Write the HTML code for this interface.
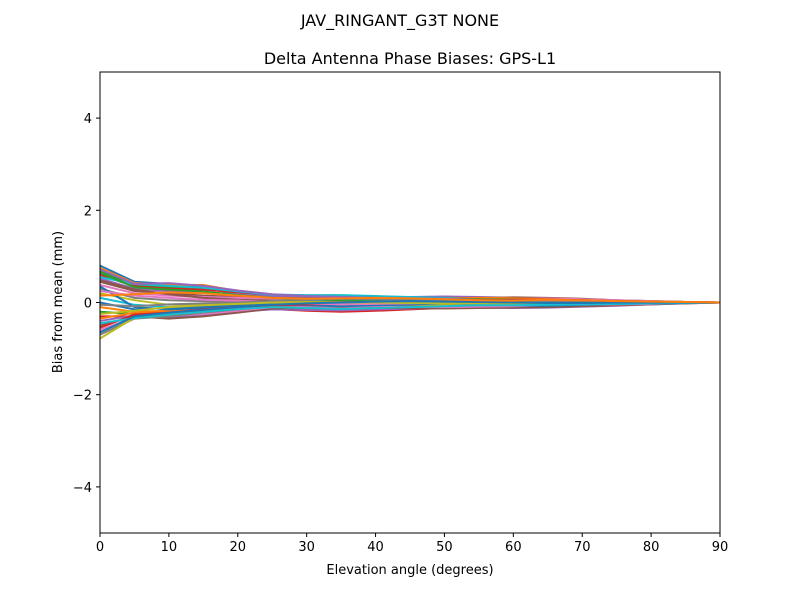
<!DOCTYPE html>
<html><head><meta charset="utf-8"><style>
body{margin:0;background:#fff;font-family:"Liberation Sans","DejaVu Sans",sans-serif}
svg text{font-family:"DejaVu Sans","Liberation Sans",sans-serif}
</style></head><body>
<svg id="chart" width="800" height="600" viewBox="0 0 800 600">
<rect width="800" height="600" fill="#fff"/>
<text x="400" y="26" font-size="16" text-anchor="middle">JAV_RINGANT_G3T NONE</text>
<text x="410" y="64" font-size="16" text-anchor="middle">Delta Antenna Phase Biases: GPS-L1</text>
<g id="lines"></g>
<g id="axes"></g>
<text x="410" y="574" font-size="13" text-anchor="middle">Elevation angle (degrees)</text>
<text transform="translate(62,302) rotate(-90)" font-size="13" text-anchor="middle">Bias from mean (mm)</text>
</svg>
<script>
const elevations=[0,5,10,15,20,25,30,35,40,45,50,55,60,65,70,75,80,85,90];
const xTicks=[0,10,20,30,40,50,60,70,80,90];
const yTicks=[-4,-2,0,2,4];
const yTickLabels=["\u22124","\u22122","0","2","4"];
const series=[
[0.80,0.45,0.40,0.35,0.22,0.12,0.08,0.05,0.03,0.02,0.02,0.03,0.02,0.01,0.01,0.01,0.00,0.00,0.00],
[0.75,0.42,0.38,0.38,0.25,0.15,0.10,0.07,0.05,0.04,0.03,0.02,0.02,0.02,0.01,0.00,0.00,0.00,0.00],
[0.68,0.38,0.33,0.30,0.20,0.14,0.12,0.10,0.08,0.06,0.05,0.04,0.03,0.02,0.02,0.01,0.01,0.00,0.00],
[0.60,0.35,0.30,0.28,0.22,0.16,0.15,0.14,0.12,0.10,0.08,0.06,0.05,0.04,0.03,0.02,0.01,0.00,0.00],
[0.52,0.30,0.25,0.22,0.18,0.13,0.12,0.11,0.10,0.12,0.13,0.12,0.10,0.08,0.06,0.04,0.02,0.01,0.00],
[0.45,0.25,0.20,0.15,0.12,0.10,0.09,0.08,0.07,0.08,0.09,0.10,0.11,0.10,0.08,0.05,0.03,0.01,0.00],
[0.38,0.20,0.15,0.12,0.10,0.08,0.05,0.04,0.04,0.05,0.06,0.07,0.08,0.09,0.07,0.05,0.03,0.01,0.00],
[0.30,0.10,0.05,0.03,0.02,0.03,0.04,0.05,0.04,0.03,0.02,0.03,0.04,0.05,0.04,0.03,0.02,0.01,0.00],
[0.20,0.05,-0.05,-0.05,-0.02,0.02,0.05,0.06,0.05,0.04,0.03,0.02,0.01,0.02,0.02,0.02,0.01,0.00,0.00],
[0.10,-0.05,-0.10,-0.08,-0.05,0.00,0.02,0.03,0.02,0.01,0.00,0.00,-0.01,0.00,0.01,0.01,0.00,0.00,0.00],
[0.00,-0.15,-0.12,-0.10,-0.06,-0.03,-0.02,-0.02,-0.01,0.00,0.01,0.00,-0.02,-0.02,-0.01,0.00,0.00,0.00,0.00],
[-0.10,-0.20,-0.18,-0.15,-0.10,-0.08,-0.10,-0.12,-0.10,-0.08,-0.05,-0.04,-0.05,-0.04,-0.03,-0.02,-0.01,0.00,0.00],
[-0.20,-0.25,-0.25,-0.20,-0.15,-0.12,-0.15,-0.18,-0.16,-0.12,-0.10,-0.08,-0.08,-0.07,-0.05,-0.03,-0.02,-0.01,0.00],
[-0.30,-0.30,-0.30,-0.25,-0.18,-0.14,-0.18,-0.20,-0.18,-0.15,-0.12,-0.10,-0.10,-0.09,-0.07,-0.05,-0.03,-0.01,0.00],
[-0.40,-0.28,-0.32,-0.28,-0.20,-0.15,-0.16,-0.17,-0.15,-0.13,-0.12,-0.11,-0.12,-0.11,-0.09,-0.07,-0.04,-0.02,0.00],
[-0.50,-0.30,-0.35,-0.30,-0.22,-0.13,-0.12,-0.13,-0.12,-0.12,-0.13,-0.12,-0.11,-0.10,-0.08,-0.06,-0.04,-0.02,0.00],
[-0.60,-0.32,-0.28,-0.25,-0.18,-0.10,-0.08,-0.09,-0.08,-0.09,-0.10,-0.09,-0.08,-0.06,-0.05,-0.04,-0.03,-0.01,0.00],
[-0.70,-0.35,-0.30,-0.22,-0.15,-0.08,-0.05,-0.06,-0.05,-0.06,-0.07,-0.06,-0.05,-0.04,-0.03,-0.02,-0.02,-0.01,0.00],
[-0.78,-0.33,-0.25,-0.20,-0.12,-0.06,-0.03,-0.04,-0.03,-0.04,-0.05,-0.05,-0.04,-0.03,-0.02,-0.02,-0.01,0.00,0.00],
[0.55,0.40,0.36,0.32,0.24,0.17,0.16,0.16,0.14,0.12,0.10,0.08,0.06,0.05,0.04,0.03,0.02,0.01,0.00],
[0.35,-0.10,-0.15,-0.12,-0.08,-0.04,-0.06,-0.08,-0.06,-0.04,-0.02,-0.03,-0.06,-0.07,-0.05,-0.03,-0.02,-0.01,0.00],
[-0.35,-0.22,-0.20,-0.18,-0.12,-0.05,0.00,0.02,0.03,0.05,0.08,0.10,0.09,0.07,0.05,0.03,0.02,0.01,0.00],
[0.65,0.33,0.28,0.24,0.16,0.10,0.07,0.05,0.06,0.07,0.08,0.07,0.06,0.05,0.04,0.02,0.01,0.00,0.00],
[-0.55,-0.26,-0.22,-0.15,-0.10,-0.06,-0.04,-0.03,0.00,0.02,0.04,0.05,0.06,0.06,0.05,0.03,0.02,0.01,0.00],
[0.72,0.40,0.42,0.36,0.26,0.18,0.14,0.12,0.10,0.09,0.08,0.06,0.05,0.04,0.03,0.02,0.01,0.00,0.00],
[0.48,0.28,0.18,0.10,0.06,0.04,0.02,0.00,0.01,0.03,0.05,0.06,0.05,0.04,0.03,0.02,0.01,0.00,0.00],
[0.25,0.15,0.10,0.06,0.04,0.01,-0.02,-0.04,-0.03,-0.02,0.00,0.01,0.00,-0.01,0.00,0.00,0.00,0.00,0.00],
[-0.05,-0.08,-0.04,-0.02,0.00,0.03,0.06,0.08,0.07,0.06,0.05,0.04,0.03,0.04,0.03,0.02,0.01,0.00,0.00],
[-0.25,-0.18,-0.10,-0.06,-0.03,0.00,0.01,0.00,0.00,-0.01,-0.02,-0.02,-0.03,-0.02,-0.02,-0.01,0.00,0.00,0.00],
[-0.45,-0.34,-0.26,-0.20,-0.14,-0.10,-0.12,-0.14,-0.12,-0.10,-0.08,-0.06,-0.06,-0.05,-0.04,-0.03,-0.02,-0.01,0.00],
[-0.65,-0.30,-0.22,-0.16,-0.10,-0.05,-0.02,0.00,0.02,0.03,0.02,0.01,0.00,-0.01,-0.01,0.00,0.00,0.00,0.00],
[0.15,0.18,0.22,0.20,0.15,0.10,0.08,0.09,0.10,0.09,0.07,0.05,0.04,0.06,0.05,0.03,0.02,0.01,0.00]
];
const colors=["#1f77b4","#ff7f0e","#2ca02c","#d62728","#9467bd","#8c564b","#e377c2","#7f7f7f","#bcbd22","#17becf"];
const X0=100,X1=720,Y0=72,Y1=533;
const sx=v=>X0+(v-0)/(90-0)*(X1-X0);
const sy=v=>Y1-(v+5)/10*(Y1-Y0);
const NS="http://www.w3.org/2000/svg";
const lines=document.getElementById('lines');
series.forEach((s,i)=>{
  const p=document.createElementNS(NS,'polyline');
  p.setAttribute('points',s.map((v,j)=>sx(elevations[j])+','+sy(v)).join(' '));
  p.setAttribute('fill','none');p.setAttribute('stroke',colors[i%10]);p.setAttribute('stroke-width','2');
  
  
  lines.appendChild(p);
});
const ax=document.getElementById('axes');
const fr=document.createElementNS(NS,'rect');
fr.setAttribute('x',X0);fr.setAttribute('y',Y0);fr.setAttribute('width',X1-X0);fr.setAttribute('height',Y1-Y0);
fr.setAttribute('fill','none');fr.setAttribute('stroke','#000');fr.setAttribute('stroke-width','1');


ax.appendChild(fr);
xTicks.forEach(t=>{
  const l=document.createElementNS(NS,'line');
  l.setAttribute('x1',sx(t));l.setAttribute('x2',sx(t));l.setAttribute('y1',Y1);l.setAttribute('y2',Y1+4);l.setAttribute('stroke','#000');
  
  
  ax.appendChild(l);
  const tx=document.createElementNS(NS,'text');
  tx.setAttribute('x',sx(t));tx.setAttribute('y',Y1+18);tx.setAttribute('font-size','13');tx.setAttribute('text-anchor','middle');
  tx.textContent=t;
  
  
  ax.appendChild(tx);
});
yTicks.forEach((t,i)=>{
  const l=document.createElementNS(NS,'line');
  l.setAttribute('x1',X0-4);l.setAttribute('x2',X0);l.setAttribute('y1',sy(t));l.setAttribute('y2',sy(t));l.setAttribute('stroke','#000');
  
  
  ax.appendChild(l);
  const tx=document.createElementNS(NS,'text');
  tx.setAttribute('x',X0-8);tx.setAttribute('y',sy(t)+5);tx.setAttribute('font-size','13');tx.setAttribute('text-anchor','end');
  tx.textContent=yTickLabels[i];
  
  
  ax.appendChild(tx);
});
</script>
</body></html>
